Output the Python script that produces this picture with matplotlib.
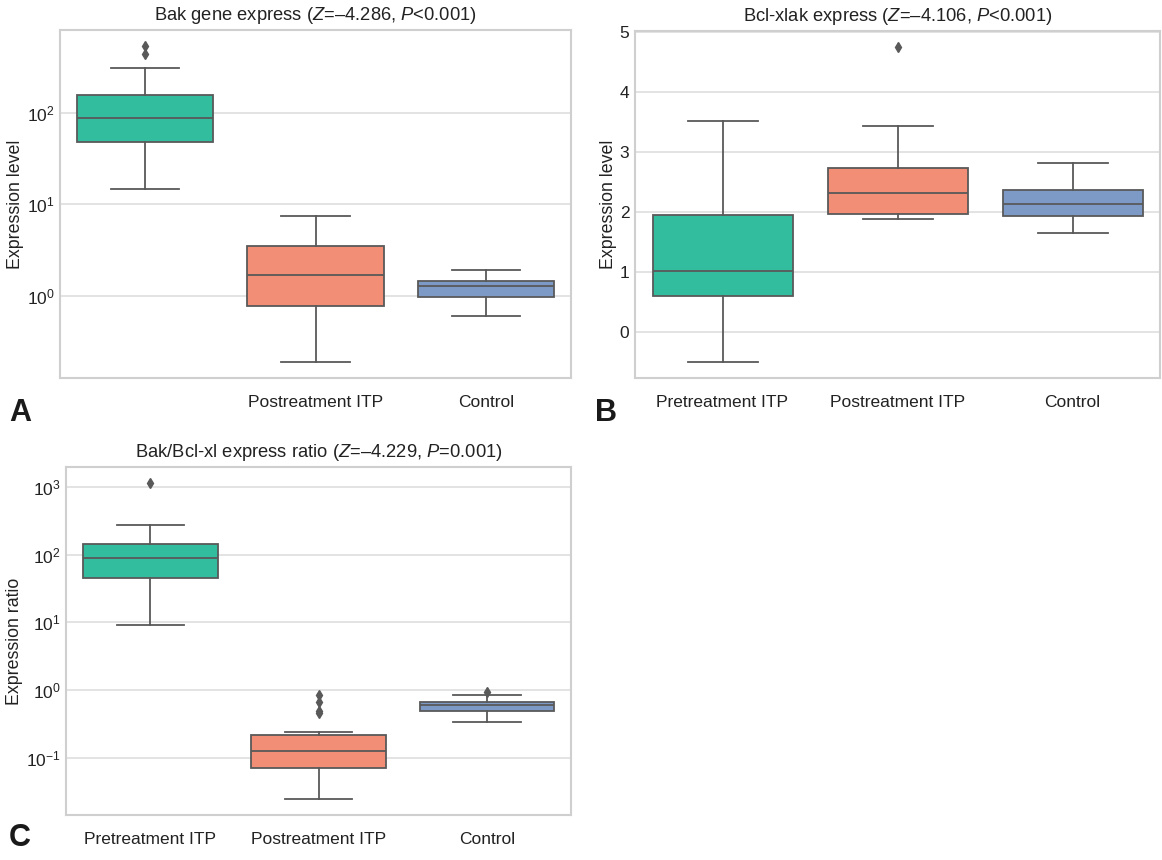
import matplotlib
matplotlib.use("Agg")
import matplotlib.pyplot as plt

plt.rcParams['font.family'] = ['Liberation Sans', 'DejaVu Sans']
plt.rcParams['mathtext.fontset'] = 'custom'
plt.rcParams['mathtext.rm'] = 'Liberation Sans'
plt.rcParams['mathtext.it'] = 'Liberation Sans:italic'
plt.rcParams['mathtext.bf'] = 'Liberation Sans:bold'

categories = ['Pretreatment ITP', 'Postreatment ITP', 'Control']
colors = ['#33bd9f', '#f28e76', '#7d99c6']

# Panel A: Bak gene expression (log scale)
a_low = [14.6, 0.19, 0.60]
a_q1 = [48, 0.78, 0.98]
a_med = [88, 1.68, 1.28]
a_q3 = [155, 3.5, 1.46]
a_high = [305, 7.4, 1.92]
a_fliers = [[440, 535], [], []]
a_ticklabels = ['', 'Postreatment ITP', 'Control']

# Panel B: Bcl-xlak expression (linear)
b_low = [-0.5, 1.88, 1.65]
b_q1 = [0.60, 1.97, 1.94]
b_med = [1.02, 2.32, 2.13]
b_q3 = [1.95, 2.73, 2.37]
b_high = [3.52, 3.43, 2.81]
b_fliers = [[], [4.75], []]
b_ticklabels = categories

# Panel C: Bak/Bcl-xl ratio (log scale)
c_low = [9.1, 0.0242, 0.336]
c_q1 = [44.7, 0.0695, 0.495]
c_med = [91, 0.123, 0.60]
c_q3 = [144, 0.216, 0.67]
c_high = [271, 0.237, 0.83]
c_fliers = [[1159], [0.46, 0.49, 0.67, 0.84], [0.945]]
c_ticklabels = categories

titles = ['Bak gene express ($\\mathit{Z}$=\u20134.286, $\\mathit{P}$<0.001)',
          'Bcl-xlak express ($\\mathit{Z}$=\u20134.106, $\\mathit{P}$<0.001)',
          'Bak/Bcl-xl express ratio ($\\mathit{Z}$=\u20134.229, $\\mathit{P}$=0.001)']
ylabels = ['Expression level', 'Expression level', 'Expression ratio']
panel_letters = ['A', 'B', 'C']

W, H = 1162, 860
fig = plt.figure(figsize=(W / 100, H / 100), dpi=100)

def rect(l, t, r, b):
    return [l / W, 1 - b / H, (r - l) / W, (b - t) / H]

axA = fig.add_axes(rect(60, 30, 571, 378))
axB = fig.add_axes(rect(635, 31, 1160, 378))
axC = fig.add_axes(rect(66, 467, 571, 815))

edge = '#595959'
grid_c = '#dedede'
spine_c = '#cfcfcf'
lw = 1.3

def draw(ax, low, q1, med, q3, high, fliers, ticklabels, title, ylabel, log):
    stats = []
    for i in range(len(low)):
        stats.append(dict(whislo=low[i], q1=q1[i], med=med[i], q3=q3[i],
                          whishi=high[i], fliers=fliers[i], label=ticklabels[i]))
    bp = ax.bxp(stats, positions=range(len(stats)), widths=0.8, patch_artist=True,
                showfliers=True,
                boxprops=dict(edgecolor=edge, linewidth=lw),
                medianprops=dict(color=edge, linewidth=lw),
                whiskerprops=dict(color=edge, linewidth=lw),
                capprops=dict(color=edge, linewidth=lw),
                flierprops=dict(marker='d', markerfacecolor=edge, markeredgecolor=edge,
                                markersize=5, linestyle='none'))
    for patch, c in zip(bp['boxes'], colors):
        patch.set_facecolor(c)
    for cap in bp['caps']:
        x = cap.get_xdata()
        mid = (x[0] + x[1]) / 2
        cap.set_xdata([mid - 0.2, mid + 0.2])
    if log:
        ax.set_yscale('log')
        ax.minorticks_off()
    ax.set_xlim(-0.5, len(stats) - 0.5)
    ax.margins(y=0.05)
    ax.set_xticks(range(len(stats)))
    ax.set_xticklabels(ticklabels, fontsize=12.5)
    ax.tick_params(axis='x', length=0, pad=12.5, labelsize=12.5, colors='#222222')
    ax.tick_params(axis='y', length=0, pad=4, labelsize=12.5, colors='#222222')
    ax.grid(axis='y', color=grid_c, linewidth=1.2)
    ax.grid(axis='x', visible=False)
    ax.set_axisbelow(True)
    for s in ax.spines.values():
        s.set_color(spine_c)
        s.set_linewidth(1.5)
    ax.set_title(title, fontsize=13.2, pad=7, color='#222222')
    ax.set_ylabel(ylabel, fontsize=12.8, color='#222222', labelpad=2)

draw(axA, a_low, a_q1, a_med, a_q3, a_high, a_fliers, a_ticklabels, titles[0], ylabels[0], True)
draw(axB, b_low, b_q1, b_med, b_q3, b_high, b_fliers, b_ticklabels, titles[1], ylabels[1], False)
draw(axC, c_low, c_q1, c_med, c_q3, c_high, c_fliers, c_ticklabels, titles[2], ylabels[2], True)
axB.set_yticks([0, 1, 2, 3, 4, 5])

for letter, (x, y) in zip(panel_letters, [(9, 413), (595, 413), (9, 838)]):
    fig.text(x / W, 1 - y / H, letter, fontsize=22, fontweight='bold', va='center', ha='left',
             color='#1a1a1a')

fig.savefig('out.png', dpi=100)
